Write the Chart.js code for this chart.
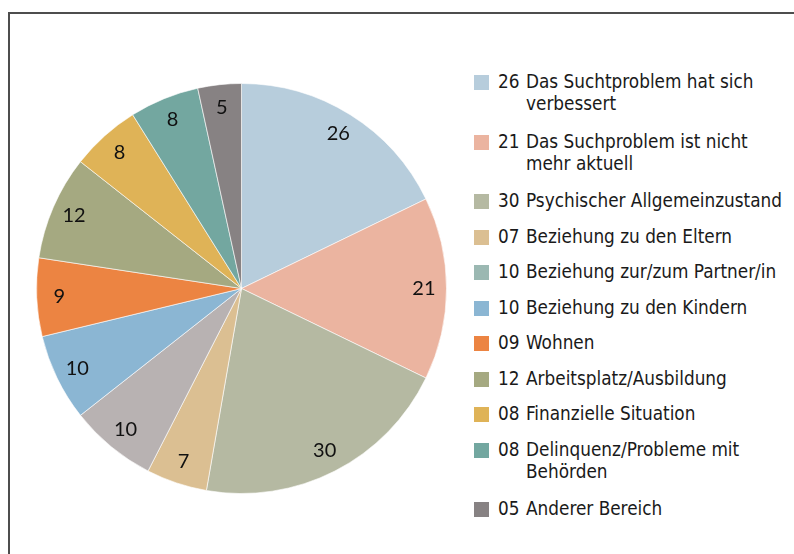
<!DOCTYPE html>
<html>
<head>
<meta charset="utf-8">
<script src="https://cdn.jsdelivr.net/npm/chart.js@4"></script>
<style>
  html, body { margin: 0; padding: 0; background: #fff; }
  body { width: 794px; height: 554px; position: relative; overflow: hidden; }
  .frame {
    position: absolute; left: 8px; top: 12px; right: -10px; bottom: -10px;
    border-left: 2px solid #4d4d4d; border-top: 2px solid #4d4d4d;
  }
  .pie-box { position: absolute; left: 36px; top: 83px; width: 411px; height: 411px; }
  #legend {
    position: absolute; left: 474px; top: 71px; margin: 0; padding: 0; list-style: none;
    font-family: "DejaVu Sans", sans-serif; font-stretch: condensed; font-size: 18.8px;
    color: #1a1a1a;
  }
  #legend li { position: relative; padding-left: 24px; line-height: 22px; height: 22px; margin-bottom: 13.5px; white-space: nowrap; }
  #legend li.two { height: 44px; margin-bottom: 15.5px; }
  #legend li span.box { position: absolute; left: 0; top: 4px; width: 15px; height: 15px; }
  #legend li .num { display: inline-block; width: 28px; }
  #legend li .line2 { padding-left: 28px; }
</style>
</head>
<body>
<div class="frame"></div>
<div class="pie-box"><canvas id="pie"></canvas></div>
<ul id="legend"></ul>
<script>
const values = [26, 21, 30, 7, 10, 10, 9, 12, 8, 8, 5];
const labels = [
  ["Das Suchtproblem hat sich", "verbessert"],
  ["Das Suchproblem ist nicht", "mehr aktuell"],
  ["Psychischer Allgemeinzustand"],
  ["Beziehung zu den Eltern"],
  ["Beziehung zur/zum Partner/in"],
  ["Beziehung zu den Kindern"],
  ["Wohnen"],
  ["Arbeitsplatz/Ausbildung"],
  ["Finanzielle Situation"],
  ["Delinquenz/Probleme mit", "Behörden"],
  ["Anderer Bereich"],
];
const sliceColors = ["#b7cddc", "#ebb4a0", "#b5b9a2", "#dbbf92", "#b8b2b2", "#8bb6d3",
  "#ec8442", "#a5a981", "#dfb357", "#73a7a0", "#878283"];
const legendColors = ["#b7cddc", "#ebb4a0", "#b5b9a2", "#dbbf92", "#9bb8b2", "#8bb6d3",
  "#ec8442", "#a5a981", "#dfb357", "#73a7a0", "#878283"];

// value labels inside the slices
const sliceLabels = {
  id: "sliceLabels",
  afterDatasetsDraw(chart) {
    const ctx = chart.ctx;
    const meta = chart.getDatasetMeta(0);
    ctx.save();
    ctx.font = "20px Lato, sans-serif";
    ctx.fillStyle = "#111";
    ctx.textAlign = "center";
    ctx.textBaseline = "middle";
    meta.data.forEach((arc, i) => {
      const mid = (arc.startAngle + arc.endAngle) / 2;
      const r = arc.outerRadius * 0.89;
      ctx.fillText(String(values[i]), arc.x + Math.cos(mid) * r, arc.y + Math.sin(mid) * r);
    });
    ctx.restore();
  },
};

new Chart(document.getElementById("pie"), {
  type: "pie",
  data: {
    labels: labels.map((l) => l.join(" ")),
    datasets: [
      {
        data: values,
        backgroundColor: sliceColors,
        borderColor: "rgba(255,255,255,0.6)",
        borderWidth: 1,
      },
    ],
  },
  options: {
    responsive: true,
    maintainAspectRatio: false,
    animation: false,
    layout: { padding: 0 },
    plugins: {
      legend: { display: false },
      tooltip: { enabled: false },
    },
  },
  plugins: [sliceLabels],
});

// html legend
const ul = document.getElementById("legend");
labels.forEach((lines, i) => {
  const li = document.createElement("li");
  if (lines[1]) li.className = "two";
  const num = String(values[i]).padStart(2, "0");
  let html = '<span class="box" style="background:' + legendColors[i] + '"></span>';
  html += '<span class="num">' + num + "</span>" + lines[0];
  if (lines[1]) html += '<div class="line2">' + lines[1] + "</div>";
  li.innerHTML = html;
  ul.appendChild(li);
});
</script>
</body>
</html>
